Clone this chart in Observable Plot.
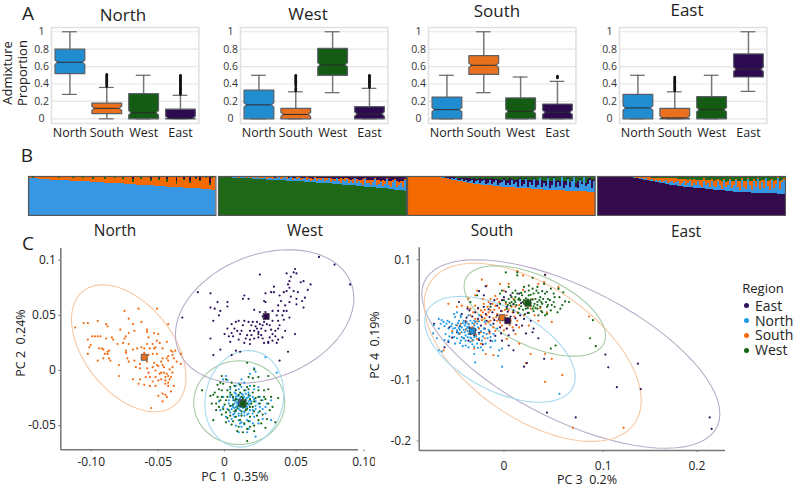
<!DOCTYPE html>
<html><head><meta charset="utf-8">
<script src="https://cdn.jsdelivr.net/npm/d3@7"></script>
<script src="https://cdn.jsdelivr.net/npm/@observablehq/plot@0.6"></script>
<style>
html,body{margin:0;padding:0;background:#fff;overflow:hidden}
#root{position:relative;width:793px;height:486px;font-family:"Open Sans",sans-serif;color:#222;overflow:hidden}
.lab{position:absolute;white-space:pre;line-height:1}
</style></head><body><div id="root"></div>
<script>
const regions=["North","South","West","East"];
const boxFill={North:"#1f8dd0",South:"#e8701e",West:"#145c14",East:"#2d0a4f"};
const barFill={North:"#3797e3",South:"#f56a00",West:"#1e6817",East:"#330a4a"};
const dotFill={North:"#1f9be8",South:"#f56a10",West:"#126612",East:"#2f1160"};
const ringStroke={North:"#a6d9ee",South:"#f6c9a5",West:"#a6cba6",East:"#b9aec9"};

// A: box statistics, one value per region in [North, South, West, East]
const lowN=[.28,0,0,0],q1N=[.52,.06,0,0],medN=[.65,.12,.07,.005],q3N=[.80,.18,.29,.11],highN=[1,.36,.50,.27];
const lowW=[0,0,.30,0],q1W=[0,0,.50,0],medW=[.16,.05,.62,.055],q3W=[.33,.12,.81,.14],highW=[.50,.31,1,.35];
const lowS=[0,.30,0,0],q1S=[0,.51,0,0],medS=[.105,.615,.085,.075],q3S=[.25,.725,.24,.17],highS=[.50,1,.48,.43];
const lowE=[0,0,0,.315],q1E=[0,0,0,.48],medE=[.125,.01,.105,.57],q3E=[.28,.12,.255,.745],highE=[.50,.31,.50,1];
const fliersNSouth=[.37,.38,.39,.40,.41,.42,.43,.44,.45,.46,.47,.48,.49,.50,.51];
const fliersNEast=[.28,.29,.30,.31,.32,.33,.34,.35,.36,.37,.38,.39,.40,.41,.42,.43,.44,.45,.46,.47,.48,.49,.50];
const fliersWSouth=[.32,.33,.35,.37,.39,.40,.41,.42,.43,.44,.45,.46,.47,.48,.49,.50];
const fliersWEast=[.36,.37,.38,.39,.40,.41,.42,.43,.44,.45,.46,.47,.48,.49,.50];
const fliersSEast=[.47,.48,.49];
const fliersESouth=[.32,.33,.34,.35,.36,.37,.38,.39,.40,.41,.42,.43,.44,.45,.46,.47,.48];

// B: admixture per sample column, percent
const mainNorth=[95,95,94,94,94,93,93,93,92,92,92,91,91,91,90,90,90,90,89,89,89,88,88,88,87,87,87,87,86,86,86,85,85,85,84,84,84,84,83,83,83,82,82,82,81,81,81,81,80,80,80,79,79,79,78,78,78,77,77,77,76,76,76,75,75,75,74,74,74,73,73,73,72,72,72,71,71,71,70,70,70,69,69,69,68,68,68,67,67,66,66,66,65,65];
const orangeNorth=[2,3,1,4,5,6,5,6,7,8,7,8,8,9,9,4,10,10,9,11,10,11,7,12,13,12,13,9,14,13,14,15,8,15,16,15,16,16,10,17,16,18,17,12,19,18,18,11,20,19,20,21,6,21,22,21,14,23,22,20,24,10,23,25,24,16,26,25,26,12,27,26,28,27,8,26,29,28,20,30,29,14,31,30,24,32,18,31,33,28,33,12,30,32];
const greenNorth=[1,0,2,0,0,0,1,0,0,0,1,0,1,0,0,5,0,0,2,0,1,0,4,0,0,1,0,3,0,1,0,0,4,0,0,1,0,0,5,0,1,0,0,4,0,1,0,6,0,1,0,0,8,0,0,1,5,0,0,2,0,6,1,0,1,4,0,0,0,8,0,1,0,1,6,2,0,0,3,0,1,5,0,0,2,0,4,1,0,3,0,5,2,0];
const mainWest=[98,98,98,97,97,97,97,96,96,96,95,95,95,95,94,94,94,93,93,93,93,92,92,92,91,91,91,90,90,90,90,89,89,89,88,88,88,87,87,87,86,86,86,85,85,85,84,84,84,83,83,83,82,82,81,81,81,80,80,79,79,79,78,78,77,77,76,76,76,75,75,74,74,73,73,72,72,71,71,70,70,69,69,68,68,67,66,66,65,65,64,63,63,62];
const blueWest=[1,1,0,1,2,1,2,1,3,2,1,3,2,4,2,3,1,4,3,5,2,4,3,6,2,4,5,3,6,4,7,3,5,8,4,6,9,3,7,5,10,4,6,11,5,8,3,7,12,4,9,6,13,5,8,14,4,10,6,15,7,3,12,8,16,5,10,7,18,6,12,9,4,20,8,11,6,14,22,7,10,16,5,12,24,9,6,18,26,8,14,20,10,28];
const orangeWest=[0,0,1,0,0,1,0,1,0,1,2,0,1,0,2,1,3,1,2,0,3,1,2,0,4,2,1,4,0,3,1,5,3,0,5,2,1,6,2,5,1,6,4,0,8,3,9,2,1,7,3,6,1,8,5,0,9,2,7,1,6,12,3,8,1,11,5,9,1,12,4,7,14,1,10,6,12,4,2,14,9,3,15,8,2,12,16,5,2,14,7,4,15,3];
const mainSouth=[100,100,100,100,100,100,100,100,100,100,99,99,99,99,98,98,97,96,95,94,93,92,91,90,89,88,87,86,85,84,83,82,81,80,80,79,79,78,78,77,77,76,76,75,75,74,74,73,73,72,72,72,71,71,70,70,70,69,69,68,68,68,67,67,67,66,66,66,65,65,65,64,64,64,64,63,63,63,63,62,62,62,62,62,61,61,61,61,61,61,60,60,60,60];
const blueSouth=[0,0,0,0,0,0,0,0,0,0,0,0,0,0,0,1,0,1,2,0,3,1,4,2,5,1,3,6,2,7,1,4,9,2,6,11,3,8,13,2,5,14,4,9,16,3,7,12,18,5,10,4,20,8,14,3,22,6,11,24,5,16,9,26,4,12,28,7,18,10,30,6,14,32,8,22,11,34,5,16,30,9,24,35,12,7,28,18,36,14,20,31,9,26];
const purpleSouth=[0,0,0,0,0,0,0,0,0,0,0,0,0,0,0,0,1,0,1,3,1,4,2,5,2,6,5,2,9,3,11,8,3,12,6,3,14,7,2,16,10,3,14,8,2,16,9,5,3,14,8,18,2,12,6,20,3,14,10,2,18,6,14,2,20,10,2,16,5,12,2,18,8,3,15,5,12,2,20,8,2,14,5,2,10,18,4,6,2,8,12,3,20,6];
const mainEast=[100,100,100,100,100,100,100,100,100,100,100,100,100,100,100,99,98,97,96,95,94,93,92,91,90,89,88,87,86,85,84,83,82,81,80,79,78,77,77,76,75,74,74,73,73,72,71,71,70,70,69,69,68,68,67,67,66,66,65,65,64,64,63,63,62,62,61,61,60,60,60,59,59,59,58,58,58,57,57,57,57,56,56,56,56,56,56,56,56,56,55,55,55,55];
const blueEast=[0,0,0,0,0,0,0,0,0,0,0,0,0,0,0,0,1,0,1,0,2,1,3,1,4,2,3,6,1,5,3,8,2,6,9,3,7,11,4,8,13,3,9,14,5,10,16,4,12,6,18,8,3,20,9,14,5,22,10,6,24,12,4,26,9,16,28,7,18,30,11,5,32,14,8,34,20,6,30,16,36,10,28,12,38,18,7,33,14,24,40,11,30,36];
const orangeEast=[0,0,0,0,0,0,0,0,0,0,0,0,0,0,0,0,0,1,1,3,2,4,2,6,3,6,6,3,9,6,9,3,11,8,5,12,9,6,13,10,5,15,9,6,14,9,6,16,10,15,4,14,18,6,14,9,20,5,12,18,5,14,20,3,14,9,4,20,10,2,16,22,4,14,20,3,8,24,6,14,2,20,6,22,2,14,26,4,18,10,2,22,6,3];

// C: PC scores in thousandths, [x, y]
const pc12South=[[-105,39],[-99,43],[-96,43],[-89,45],[-96,28],[-93,31],[-91,31],[-89,31],[-87,31],[-94,23],[-95,21],[-96,15],[-88,20],[-86,20],[-85,19],[-89,9],[-84,15],[-85,11],[-82,17],[-81,18],[-82,15],[-81,11],[-80,9],[-83,42],[-82,40],[-83,29],[-79,30],[-78,28],[-75,24],[-73,37],[-70,54],[-67,47],[-60,56],[-47,56],[-58,44],[-64,42],[-39,42],[-54,37],[-63,36],[-67,34],[-69,31],[-70,29],[-71,25],[-67,24],[-69,18],[-69,16],[-68,11],[-67,8],[-74,5],[-74,-5],[-64,-8],[-60,-12],[-59,-8],[-56,-13],[-52,-14],[-48,-14],[-46,-23],[-43,-21],[-41,-22],[-40,-24],[-43,-28],[-51,-34],[-37,-19],[-39,-14],[-35,-14],[-54,35],[-53,30],[-49,34],[-46,33],[-47,27],[-50,24],[-54,24],[-56,20],[-58,21],[-61,20],[-64,19],[-48,21],[-49,20],[-40,26],[-37,18],[-36,17],[-39,13],[-36,14],[-39,9],[-30,15],[-30,6],[-33,8],[-35,11],[-40,11],[-43,11],[-47,15],[-50,15],[-53,14],[-56,16],[-57,12],[-54,8],[-49,7],[-43,5],[-46,4],[-48,0],[-53,-2],[-52,-6],[-48,-6],[-46,-9],[-42,-2],[-40,-3],[-39,-5],[-37,-6],[-41,-9],[-39,-11],[-44,-2],[-47,5],[-59,6],[-62,3],[-59,2],[-54,2],[-63,9],[-50,3],[-45,-3],[-44,8],[-42,3],[-38,1],[-41,-6],[-44,-8],[-50,-10],[-55,-6],[-38,-8],[-36,3],[-34,18],[-43,20],[-45,25],[-52,20],[-41,-12],[-36,-2]];
const pc12East=[[68,103],[79,96],[90,78],[-18,71],[-9,70],[-29,48],[26,87],[45,88],[51,92],[50,89],[48,85],[52,88],[47,81],[55,80],[62,78],[57,81],[60,73],[45,72],[43,71],[47,75],[50,72],[53,71],[58,66],[56,63],[57,57],[52,60],[47,62],[44,59],[41,63],[39,59],[36,76],[34,71],[30,70],[36,71],[29,63],[30,62],[15,68],[14,65],[18,65],[-4,62],[3,62],[-9,57],[-6,56],[3,58],[-2,54],[-7,45],[-3,50],[39,54],[38,50],[32,50],[35,45],[47,48],[43,46],[39,45],[31,42],[28,41],[26,42],[24,44],[21,44],[18,44],[15,45],[11,45],[9,44],[6,42],[3,38],[8,38],[13,36],[6,34],[4,31],[12,33],[17,32],[19,36],[22,36],[24,38],[25,33],[27,32],[30,36],[34,37],[37,36],[39,38],[44,36],[51,33],[42,30],[39,28],[35,27],[38,25],[32,26],[29,25],[22,29],[19,28],[16,29],[11,28],[5,26],[-9,29],[-2,19],[-7,14],[9,18],[12,17],[6,14],[46,17],[40,9],[32,25],[25,30],[25,35],[45,54],[43,54],[35,54],[30,53],[20,41],[23,40],[27,38],[29,44],[33,41],[35,33],[37,31],[40,41],[42,50],[26,53],[22,55],[28,49],[48,67],[52,65],[40,68],[46,78],[20,32],[14,41],[10,36],[7,31],[1,33],[15,25],[19,24],[28,29],[33,30]];
const pc12North=[[30,12],[38,-2],[22,2],[23,-1],[19,-3],[2,-5],[0,-8],[3,-9],[13,-8],[11,-12],[15,-11],[19,-14],[9,-14],[5,-17],[8,-20],[11,-17],[13,-15],[16,-18],[18,-20],[22,-17],[25,-15],[0,-24],[5,-24],[9,-24],[11,-23],[13,-21],[15,-24],[18,-24],[22,-26],[26,-24],[31,-30],[34,-27],[4,-30],[8,-30],[10,-29],[12,-28],[13,-27],[16,-29],[19,-30],[23,-32],[28,-35],[0,-33],[6,-35],[9,-33],[11,-35],[13,-33],[17,-33],[21,-36],[25,-38],[30,-39],[2,-42],[8,-39],[11,-39],[15,-38],[18,-39],[22,-42],[28,-44],[6,-44],[11,-45],[13,-47],[17,-45],[21,-48],[25,-48],[9,-50],[13,-51],[18,-53],[23,-60],[11,-56],[17,-56],[34,-45],[14,-28],[15,-31],[12,-31],[10,-26],[16,-26],[13,-24],[11,-31],[9,-28],[17,-30],[14,-34],[12,-36],[15,-37],[7,-27],[7,-33],[19,-27],[5,-22],[7,-25],[9,-21],[10,-23],[12,-25],[14,-22],[16,-21],[17,-25],[19,-23],[21,-24],[23,-28],[25,-30],[20,-28],[18,-31],[16,-34],[14,-31],[12,-33],[10,-32],[8,-34],[6,-32],[4,-27],[3,-35],[5,-38],[7,-40],[9,-37],[11,-41],[13,-39],[15,-41],[17,-40],[19,-36],[21,-39],[23,-35],[26,-33],[14,-26],[12,-29],[15,-28],[16,-32],[13,-30],[11,-28],[10,-30],[18,-28],[8,-42],[12,-48],[15,-49],[19,-46],[4,-46],[-3,-28],[-2,-36],[28,-27],[30,-33]];
const pc12West=[[17,7],[22,1],[25,-6],[32,-5],[-1,-5],[2,-8],[-2,-11],[-4,-13],[6,-11],[18,-6],[21,-7],[-15,-18],[-9,-23],[-7,-22],[-4,-24],[-1,-18],[3,-18],[6,-22],[9,-18],[12,-20],[17,-15],[21,-20],[25,-18],[29,-18],[32,-17],[39,-25],[34,-24],[29,-24],[25,-24],[-5,-30],[-8,-30],[-2,-27],[2,-27],[8,-27],[11,-32],[14,-29],[19,-26],[22,-28],[26,-30],[32,-30],[-5,-36],[0,-35],[5,-32],[9,-36],[16,-36],[21,-33],[26,-37],[33,-36],[-7,-45],[5,-41],[9,-42],[13,-41],[19,-42],[25,-45],[27,-48],[37,-47],[11,-51],[10,-55],[17,-64],[17,-53],[30,-52],[19,-51],[22,-50],[2,-47],[6,-49],[13,-24],[15,-33],[11,-27],[17,-30],[0,-12],[5,-15],[8,-14],[12,-13],[15,-18],[18,-17],[22,-14],[-6,-20],[-3,-17],[-1,-24],[1,-31],[3,-24],[5,-20],[7,-24],[9,-26],[11,-22],[14,-25],[16,-27],[18,-22],[20,-30],[23,-25],[27,-27],[30,-26],[35,-33],[-3,-33],[-1,-40],[2,-38],[4,-36],[7,-31],[10,-34],[12,-30],[14,-33],[15,-29],[17,-35],[19,-33],[22,-37],[24,-41],[28,-40],[31,-44],[3,-43],[7,-46],[12,-45],[15,-48],[18,-46],[14,-56],[22,-55],[8,-37],[13,-37]];
const pc34North=[[-71,-8],[-66,2],[-63,0],[-64,-6],[-66,-14],[-72,-22],[-61,-3],[-57,-1],[-50,10],[-47,13],[-49,5],[-43,8],[-45,-1],[-52,-6],[-56,-14],[-59,-23],[-66,-50],[-63,-52],[-56,-34],[-50,-28],[-45,-23],[-42,-12],[-45,-13],[-38,-6],[-33,-1],[-35,-13],[-29,-9],[-26,-6],[-35,-23],[-29,-28],[-24,-23],[-19,-14],[-16,-23],[-12,-28],[-9,-23],[-5,-14],[-38,-34],[-33,-36],[-26,-39],[-17,-39],[-12,-45],[-7,-34],[-3,-50],[-38,-42],[-35,-45],[-49,-39],[-43,-34],[-29,-56],[-28,-70],[0,-77],[-4,-59],[0,-47],[60,-122],[-42,-20],[-40,-16],[-36,-18],[-33,-16],[-28,-20],[-38,-25],[-42,-28],[-47,-17],[-49,-13],[-21,-34],[-22,-45],[-29,-44],[-43,5],[-40,-1],[-35,8],[-29,-1],[-24,8],[-60,-10],[-58,-6],[-55,-3],[-53,-10],[-51,-14],[-48,-8],[-46,-5],[-44,-9],[-41,-5],[-39,-9],[-37,-3],[-35,-7],[-31,-5],[-28,-3],[-24,-2],[-44,-16],[-46,-21],[-39,-20],[-37,-14],[-34,-19],[-32,-22],[-30,-14],[-27,-16],[-25,-12],[-22,-18],[-19,-21],[-40,-30],[-36,-28],[-33,-29],[-30,-33],[-27,-27],[-24,-30],[-20,-27],[-15,-30],[-52,-21],[-55,-27],[-47,-30],[-44,-38],[-41,-43],[-31,-40],[-25,-46],[-20,-50],[-60,-33],[-68,-30],[-10,-35],[-14,-16],[-12,-8],[-18,-3],[-32,-30],[-36,-11]];
const pc34West=[[4,79],[16,79],[16,74],[32,70],[7,55],[-2,44],[0,49],[14,49],[23,55],[28,57],[37,55],[44,60],[51,52],[59,52],[54,44],[45,44],[40,38],[33,44],[28,41],[21,41],[14,38],[7,35],[4,30],[9,24],[14,30],[19,33],[23,27],[30,34],[37,30],[42,27],[47,22],[54,30],[66,31],[70,30],[61,19],[58,13],[51,16],[45,8],[37,19],[32,19],[25,19],[18,19],[12,16],[5,19],[-2,27],[-12,22],[-33,30],[-26,41],[42,13],[38,8],[56,-42],[51,-47],[95,0],[92,-30],[98,-43],[27,34],[22,30],[30,24],[35,35],[18,36],[40,22],[34,27],[12,27],[25,36],[30,42],[38,45],[48,35],[10,38],[20,23],[23,33],[25,25],[27,20],[28,30],[30,28],[32,34],[33,23],[35,20],[37,25],[39,33],[41,30],[43,35],[46,30],[48,25],[50,33],[52,25],[55,22],[60,38],[63,25],[15,25],[17,34],[13,33],[10,30],[8,28],[6,25],[2,33],[20,45],[24,47],[28,49],[32,52],[36,49],[42,48],[47,47],[16,44],[11,45],[22,17],[28,12],[33,15],[41,15],[47,10],[24,10],[17,12],[55,38],[64,46]];
const pc34South=[[-21,67],[16,81],[22,74],[45,75],[38,60],[44,63],[59,55],[-2,60],[-16,57],[-26,49],[-28,41],[-56,27],[-47,22],[-42,24],[-33,19],[-28,24],[-22,16],[-19,27],[-12,35],[-5,35],[2,49],[7,60],[12,35],[4,27],[-7,24],[-12,16],[-16,8],[-22,8],[-28,2],[-33,8],[-38,-1],[-43,-6],[-47,-9],[-29,-6],[-24,-14],[-17,-6],[-12,-1],[-5,-1],[0,-9],[5,-14],[11,-12],[16,-1],[23,8],[30,19],[38,-1],[47,13],[52,-3],[14,-23],[5,-31],[18,-39],[30,-56],[-17,-56],[-9,-58],[-29,-47],[-31,-34],[-26,-31],[-22,-39],[-61,-50],[45,-56],[52,-64],[25,-71],[45,-102],[63,-91],[74,-178],[91,6],[28,-9],[11,13],[5,8],[-5,10],[-14,13],[-9,-12],[2,-17],[9,-1],[16,13],[127,-178],[-36,22],[-30,13],[-25,19],[-20,13],[-18,17],[-15,22],[-10,27],[-8,17],[-3,20],[0,15],[3,17],[7,17],[10,22],[14,22],[18,25],[22,30],[26,27],[-3,30],[-7,40],[-14,30],[-20,35],[-35,-6],[-31,-12],[-26,-2],[-21,0],[-18,3],[-14,-3],[-9,3],[-6,5],[-2,-4],[1,1],[4,-4],[8,-8],[13,6],[18,-12],[-22,-20],[-18,-30],[-13,-22],[-7,-18],[-27,-24],[-38,-16],[-44,-22],[-52,-18],[34,8],[40,20],[32,35],[-35,36],[22,50]];
const pc34East=[[45,75],[-17,56],[-24,48],[-19,41],[-45,30],[-36,19],[-34,16],[-28,13],[-19,22],[-12,27],[-5,24],[2,38],[9,41],[18,44],[0,33],[5,22],[12,13],[19,8],[30,-1],[33,-14],[32,-20],[21,-9],[12,-17],[7,-25],[-2,-12],[-9,-6],[-16,-1],[-22,-9],[-28,-17],[-33,-23],[-38,-3],[-47,-20],[-52,-29],[-56,-36],[-71,-6],[-35,-34],[-29,-25],[-24,-33],[-12,-34],[0,-34],[12,-50],[23,-77],[26,-71],[44,-64],[47,-153],[77,-161],[-10,13],[-5,8],[108,-57],[111,-78],[142,-72],[120,-111],[145,-114],[217,-161],[219,-180],[-42,10],[-37,4],[-31,6],[-25,2],[-21,5],[-17,10],[-13,5],[-8,0],[-3,2],[1,6],[5,0],[9,6],[14,3],[23,2],[27,12],[-1,15],[6,14],[-14,18],[-25,20],[-34,-12],[-24,-21],[-18,-14],[-13,-19],[-7,-26],[-1,-22],[5,-14],[15,-8],[25,-22],[38,-30],[-44,-10],[-55,-12],[-40,-30],[-20,-40],[7,-42],[20,28],[27,33],[12,26],[-8,33],[4,47],[-60,-45]];
const centers12={East:[30.5,49],North:[13,-29],South:[-56,12],West:[14,-30]};
const centers34={North:[-31,-18],South:[0,4],East:[6,-1],West:[27,28]};
// confidence ellipses: centre, half extents, correlation (PC units)
const rings12=[{k:"South",cx:-.0670,cy:.0201,rx:.0406,ry:.0576,rho:-.455},{k:"East",cx:.0294,cy:.0490,rx:.0633,ry:.0605,rho:.27},{k:"West",cx:.0114,cy:-.0292,rx:.0323,ry:.0379,rho:0},{k:"North",cx:.0150,cy:-.0257,rx:.0280,ry:.0438,rho:.1}];
const rings34=[{k:"East",cx:.0719,cy:-.0560,rx:.1557,ry:.1560,rho:-.635},{k:"South",cx:.0321,cy:-.0533,rx:.1134,ry:.1475,rho:-.54},{k:"North",cx:-.0021,cy:-.0483,rx:.0786,ry:.0876,rho:-.525},{k:"West",cx:.0343,cy:.0152,rx:.0739,ry:.0748,rho:-.55}];

const root=document.getElementById("root");
const font='"Open Sans",sans-serif';
function place(svg,left,top){svg.style.position="absolute";svg.style.left=left+"px";svg.style.top=top+"px";svg.style.maxWidth="none";root.append(svg);}
function label(t,x,y,size,rot,color){const d=document.createElement("div");d.className="lab";d.textContent=t;d.style.left=x+"px";d.style.top=y+"px";d.style.fontSize=size+"px";d.style.transform=`translate(-50%,-50%)${rot?` rotate(${rot}deg)`:""}`;if(color)d.style.color=color;root.append(d);}

// ---------- A
function boxPanel(frameLeft,low,q1,med,q3,high,fliers){
  const h=.404,ind=.07,n=.025,cap=.2;
  const outline=[],rows=[];
  regions.forEach((k,i)=>{
    const lo=Math.max(q1[i],med[i]-n),hi=Math.min(q3[i],med[i]+n);
    [[i-h,q1[i]],[i+h,q1[i]],[i+h,lo],[i+h-ind,med[i]],[i+h,hi],[i+h,q3[i]],[i-h,q3[i]],[i-h,hi],[i-h+ind,med[i]],[i-h,lo],[i-h,q1[i]]]
      .forEach(p=>outline.push({k,x:p[0],y:p[1]}));
    rows.push({k,i,low:low[i],high:high[i],med:med[i],l:i-h+ind,r:i+h-ind,c1:i-cap,c2:i+cap});
  });
  const flierRows=fliers.flatMap(([i,vals])=>vals.map(v=>({i,v})));
  const c=Plot.plot({width:180.4,height:125,marginLeft:30,marginRight:3,marginTop:7,marginBottom:22,
    style:{fontFamily:font,background:"transparent",color:"#333"},
    x:{domain:[-.5,3.5],axis:null},y:{domain:[-.054,1.049],axis:null},
    marks:[
      Plot.ruleY([0,.2,.4,.6,.8,1],{stroke:"#e6e6e6",strokeWidth:1.2}),
      Plot.frame({stroke:"#e0e0e0",strokeWidth:1.5}),
      Plot.ruleX(rows,{x:"i",y1:"low",y2:"high",stroke:"#777",strokeWidth:1.5}),
      Plot.ruleY(rows,{y:"low",x1:"c1",x2:"c2",stroke:"#666",strokeWidth:1.2}),
      Plot.ruleY(rows,{y:"high",x1:"c1",x2:"c2",stroke:"#666",strokeWidth:1.2}),
      Plot.dot(flierRows,{x:"i",y:"v",r:1.3,fill:"#111"}),
      Plot.line(outline,{x:"x",y:"y",z:"k",fill:d=>boxFill[d.k],stroke:"#5a5f66",strokeWidth:1.2,curve:"linear"}),
      Plot.ruleY(rows,{y:"med",x1:"l",x2:"r",stroke:"#2b2b2b",strokeWidth:1}),
      Plot.axisY({ticks:[0,.2,.4,.6,.8,1],tickFormat:d=>String(+d.toFixed(1)),tickSize:0,tickPadding:3,textAnchor:"middle",dx:-7,fontSize:10.5,label:null,fill:"#333"}),
      Plot.axisX({ticks:[0,1,2,3],tickFormat:i=>regions[i],tickSize:0,tickPadding:5,fontSize:12.5,label:null,fill:"#222"})
    ]});
  place(c,frameLeft-30,20);
}
boxPanel(50.7,lowN,q1N,medN,q3N,highN,[[1,fliersNSouth],[3,fliersNEast]]);
boxPanel(240,lowW,q1W,medW,q3W,highW,[[1,fliersWSouth],[3,fliersWEast]]);
boxPanel(428.3,lowS,q1S,medS,q3S,highS,[[3,fliersSEast]]);
boxPanel(619,lowE,q1E,medE,q3E,highE,[[1,fliersESouth]]);

// ---------- B
function stripPanel(left,right,mainKey,main,key2,a,key3,b,key4){
  const rows=[];
  main.forEach((m,i)=>{
    const free=100-m,v2=Math.min(a[i]??0,free),v3=Math.min(b[i]??0,free-v2),v4=free-v2-v3;
    [[mainKey,m],[key2,v2],[key3,v3],[key4,v4]].forEach(([k,v])=>rows.push({i,i2:i+1,k,v:v/100,col:barFill[k]}));
  });
  const c=Plot.plot({width:right-left+2,height:41,margin:0,marginLeft:1,marginRight:1,marginTop:1,marginBottom:1,
    style:{background:"transparent"},
    x:{domain:[0,main.length],axis:null},y:{domain:[0,1],axis:null},color:{type:"identity"},
    marks:[
      Plot.rectY(rows,{x1:"i",x2:"i2",y:"v",z:"k",fill:"col",shapeRendering:"crispEdges"}),
      Plot.frame({stroke:"#555",strokeWidth:1.2})
    ]});
  place(c,left-1,174.7);
}
stripPanel(28.3,215.7,"North",mainNorth,"South",orangeNorth,"West",greenNorth,"East");
stripPanel(217.7,405.7,"West",mainWest,"North",blueWest,"South",orangeWest,"East");
stripPanel(407.3,595,"South",mainSouth,"North",blueSouth,"East",purpleSouth,"West");
stripPanel(597,785,"East",mainEast,"North",blueEast,"South",orangeEast,"West");

// ---------- C
function ringPts(e){return d3.range(73).map(j=>{const t=j*Math.PI/36;return{k:e.k,x:e.cx+e.rx*Math.cos(t),y:e.cy+e.ry*(e.rho*Math.cos(t)+Math.sqrt(1-e.rho*e.rho)*Math.sin(t))};});}
function scatter(o){
  const pts=o.series.flatMap(([k,arr])=>arr.map(([x,y])=>({k,x:x/1000,y:y/1000})));
  const cent=Object.entries(o.centers).map(([k,[x,y]])=>({k,x:x/1000,y:y/1000}));
  const rings=o.rings.flatMap(ringPts);
  const xAxes=o.xTicks.map(([v,s,dx])=>Plot.axisX({ticks:[v],tickFormat:()=>s,tickSize:2,tickPadding:o.xPad,dx,fontSize:12,label:null,fill:"#222",stroke:"#777"}));
  const c=Plot.plot({width:o.width,height:o.height,marginLeft:o.ml,marginRight:o.mr,marginTop:o.mt,marginBottom:o.mb,
    style:{fontFamily:font,background:"transparent"},
    x:{domain:o.xDomain,axis:null},y:{domain:o.yDomain,axis:null},
    marks:[
      Plot.ruleX([o.xDomain[0]],{stroke:"#777",strokeWidth:1.5}),
      Plot.ruleY([o.yDomain[0]],{stroke:"#777",strokeWidth:1.5}),
      Plot.line(rings,{x:"x",y:"y",z:"k",stroke:d=>ringStroke[d.k],strokeWidth:1.1,curve:"linear"}),
      Plot.dot(pts,{x:"x",y:"y",r:1.1,fill:d=>dotFill[d.k]}),
      Plot.dot(cent,{x:"x",y:"y",symbol:"square",r:3.4,fill:d=>boxFill[d.k],stroke:"#444",strokeWidth:.8}),
      Plot.axisY({ticks:o.yTicks.map(t=>t[0]),tickFormat:d=>o.yTicks.find(t=>t[0]===d)[1],tickSize:2,tickPadding:o.yPad,fontSize:12,label:null,fill:"#222",stroke:"#777"}),
      ...xAxes
    ]});
  place(c,o.left,o.top);
}
scatter({left:0,top:240,width:375,height:246,ml:60.3,mr:17,mt:8,mb:36.7,
  xDomain:[-.1152,.0960],yDomain:[-.0719,.1106],xPad:5.5,yPad:3,
  xTicks:[[-.1,"-0.10",9],[-.05,"-0.05",5.5],[0,"0",1.3],[.05,"0.05",2.4],[.1,"0.10",0]],
  yTicks:[[-.05,"-0.05"],[0,"0"],[.05,"0.05"],[.1,"0.1"]],
  series:[["East",pc12East],["South",pc12South],["North",pc12North],["West",pc12West]],centers:centers12,rings:rings12});
scatter({left:380,top:240,width:350,height:246,ml:38.7,mr:5,mt:7.3,mb:36,
  xDomain:[-.0865,.2335],yDomain:[-.2157,.1197],xPad:9,yPad:6,
  xTicks:[[0,"0",2],[.1,"0.1",5.5],[.2,"0.2",3.5]],
  yTicks:[[-.2,"-0.2"],[-.1,"-0.1"],[0,"0"],[.1,"0.1"]],
  series:[["South",pc34South],["East",pc34East],["North",pc34North],["West",pc34West]],centers:centers34,rings:rings34});

// ---------- text
label("A",28,13,19);label("B",27,155,19);label("C",28,243,19);
label("North",123,14,17);label("West",308,13,17);label("South",497,10,17);label("East",687,9,17);
label("Admixture",7,73,13,-90);label("Proportion",22,73,13,-90);
label("North",115,231,15.5);label("West",305,231,15.5);label("South",492,231,15.5);label("East",686,232,15.5);
label("PC 2  0.24%",21,343,12.5,-90);label("PC 1  0.35%",235,477,12.5);
label("PC 4  0.19%",375,345,12.5,-90);label("PC 3  0.2%",587,480,12.5);
label("Region",763,288,13);
[["East",305.7],["North",320.7],["South",335],["West",350]].forEach(([k,y])=>{
  const s=document.createElement("span");s.style.cssText=`position:absolute;left:744px;top:${y-2.5}px;width:5px;height:5px;border-radius:50%;background:${dotFill[k]}`;root.append(s);
  const d=document.createElement("div");d.className="lab";d.textContent=k;d.style.cssText+=`left:755px;top:${y-7}px;font-size:14px`;root.append(d);
});
</script></body></html>
